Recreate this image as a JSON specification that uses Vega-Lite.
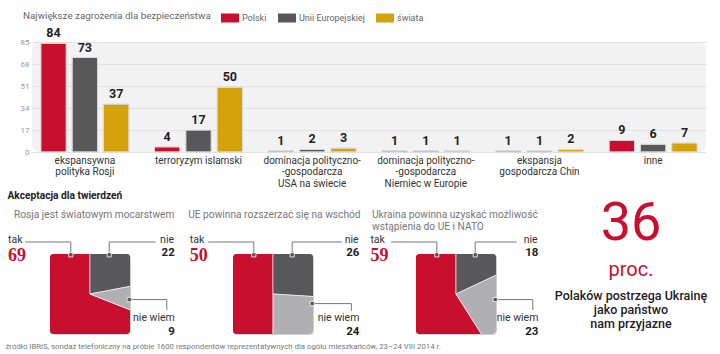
{
  "$schema": "https://vega.github.io/schema/vega-lite/v6.json",
  "background": "white",
  "padding": {"left": 5, "top": 9, "right": 5, "bottom": 3},
  "config": {
    "font": "Roboto",
    "view": {"stroke": null}
  },
  "title": {
    "text": "źródło IBRiS, sondaż telefoniczny na próbie 1600 respondentów reprezentatywnych dla ogółu mieszkańców, 23–24 VIII 2014 r.",
    "orient": "bottom", "anchor": "start", "fontSize": 7.8, "fontWeight": "normal",
    "color": "#777777", "offset": 5, "dx": -2, "font": "Roboto"
  },
  "datasets": {
    "ankieta": [
      {"pytanie": "Rosja jest światowym mocarstwem", "odp": "tak", "proc": 69},
      {"pytanie": "Rosja jest światowym mocarstwem", "odp": "nie", "proc": 22},
      {"pytanie": "Rosja jest światowym mocarstwem", "odp": "nie wiem", "proc": 9},
      {"pytanie": "UE powinna rozszerzać się na wschód", "odp": "tak", "proc": 50},
      {"pytanie": "UE powinna rozszerzać się na wschód", "odp": "nie", "proc": 26},
      {"pytanie": "UE powinna rozszerzać się na wschód", "odp": "nie wiem", "proc": 24},
      {"pytanie": "Ukraina powinna uzyskać możliwość\nwstąpienia do UE i NATO", "odp": "tak", "proc": 59},
      {"pytanie": "Ukraina powinna uzyskać możliwość\nwstąpienia do UE i NATO", "odp": "nie", "proc": 18},
      {"pytanie": "Ukraina powinna uzyskać możliwość\nwstąpienia do UE i NATO", "odp": "nie wiem", "proc": 23}
    ]
  },
  "resolve": {"scale": {"color": "independent", "x": "independent", "y": "independent"}, "legend": {"color": "independent"}},
  "spacing": 2,
  "vconcat": [
    {
      "resolve": {"scale": {"color": "independent", "x": "independent", "y": "independent"}, "legend": {"color": "independent"}},
      "align": "none",
      "spacing": -31,
      "hconcat": [
        {
          "width": 1, "height": 1,
          "data": {"values": [{}]},
          "mark": {"type": "point", "opacity": 0, "size": 1},
          "encoding": {}
        },
        {
          "width": 674,
          "height": 110,
          "view": {"fill": "#f2f2f2", "stroke": null, "cornerRadius": 8},
          "data": {"values": [
            {"kategoria": "ekspansywna\npolityka Rosji", "grupa": "Polski", "wartosc": 84},
            {"kategoria": "ekspansywna\npolityka Rosji", "grupa": "Unii Europejskiej", "wartosc": 73},
            {"kategoria": "ekspansywna\npolityka Rosji", "grupa": "świata", "wartosc": 37},
            {"kategoria": "terroryzym islamski", "grupa": "Polski", "wartosc": 4},
            {"kategoria": "terroryzym islamski", "grupa": "Unii Europejskiej", "wartosc": 17},
            {"kategoria": "terroryzym islamski", "grupa": "świata", "wartosc": 50},
            {"kategoria": "dominacja polityczno-\n-gospodarcza\nUSA na świecie", "grupa": "Polski", "wartosc": 1},
            {"kategoria": "dominacja polityczno-\n-gospodarcza\nUSA na świecie", "grupa": "Unii Europejskiej", "wartosc": 2},
            {"kategoria": "dominacja polityczno-\n-gospodarcza\nUSA na świecie", "grupa": "świata", "wartosc": 3},
            {"kategoria": "dominacja polityczno-\n-gospodarcza\nNiemiec w Europie", "grupa": "Polski", "wartosc": 1},
            {"kategoria": "dominacja polityczno-\n-gospodarcza\nNiemiec w Europie", "grupa": "Unii Europejskiej", "wartosc": 1},
            {"kategoria": "dominacja polityczno-\n-gospodarcza\nNiemiec w Europie", "grupa": "świata", "wartosc": 1},
            {"kategoria": "ekspansja\ngospodarcza Chin", "grupa": "Polski", "wartosc": 1},
            {"kategoria": "ekspansja\ngospodarcza Chin", "grupa": "Unii Europejskiej", "wartosc": 1},
            {"kategoria": "ekspansja\ngospodarcza Chin", "grupa": "świata", "wartosc": 2},
            {"kategoria": "inne", "grupa": "Polski", "wartosc": 9},
            {"kategoria": "inne", "grupa": "Unii Europejskiej", "wartosc": 6},
            {"kategoria": "inne", "grupa": "świata", "wartosc": 7}
          ]},
          "encoding": {
            "x": {
              "field": "kategoria", "type": "nominal", "sort": null,
              "scale": {"paddingInner": 0.224, "paddingOuter": 0.077},
              "axis": {
                "title": null, "labelExpr": "split(datum.label, '\\n')", "labelAngle": 0,
                "labelFontSize": 10, "labelColor": "#333333", "labelLineHeight": 11.5,
                "labelPadding": 3, "ticks": false, "domain": false, "labelLimit": 0, "grid": false
              }
            },
            "y": {
              "field": "wartosc", "type": "quantitative",
              "scale": {"domain": [0, 85], "nice": false},
              "axis": {
                "values": [0, 17, 34, 51, 68, 85], "title": null,
                "domain": false, "ticks": false, "labelFontSize": 8, "labelColor": "#999999",
                "labelPadding": 3, "gridColor": "#e2e2e2", "gridWidth": 1
              }
            },
            "xOffset": {
              "field": "grupa", "type": "nominal",
              "sort": ["Polski", "Unii Europejskiej", "świata"],
              "scale": {"paddingInner": 0.184, "paddingOuter": 0}
            }
          },
          "layer": [
            {
              "mark": {"type": "bar", "stroke": "#d8d8d8", "strokeWidth": 1, "cornerRadius": 1},
              "encoding": {
                "color": {
                  "field": "grupa", "type": "nominal",
                  "sort": ["Polski", "Unii Europejskiej", "świata"],
                  "scale": {"domain": ["Polski", "Unii Europejskiej", "świata"], "range": ["#c8102e", "#58585a", "#d4a20a"]},
                  "legend": {
                    "orient": "none", "legendX": -9, "legendY": -33, "direction": "horizontal",
                    "title": "Największe zagrożenia dla bezpieczeństwa", "titleOrient": "left",
                    "titleFontSize": 9.8, "titleFontWeight": "normal", "titleColor": "#666666",
                    "titlePadding": 10, "titleBaseline": "middle", "titleLimit": 400,
                    "symbolType": "M-1,-0.5H1V0.5H-1Z", "symbolSize": 324, "symbolStrokeWidth": 0,
                    "symbolOpacity": 1, "labelFontSize": 9, "labelColor": "#666666",
                    "labelOffset": 3, "columnPadding": 11
                  }
                }
              }
            },
            {
              "mark": {"type": "text", "baseline": "bottom", "dy": -3, "fontSize": 12.5, "fontWeight": "bold", "color": "#222222", "font": "Roboto"},
              "encoding": {"text": {"field": "wartosc", "type": "quantitative"}}
            }
          ]
        }
      ]
    },
    {
      "title": {"text": "Akceptacja dla twierdzeń", "anchor": "start", "fontSize": 10.2, "fontWeight": "bold", "color": "#222222", "offset": -4, "font": "Roboto"},
      "bounds": "flush",
      "spacing": 103,
      "hconcat": [
        {
          "width": 80, "height": 80,
          "view": {"stroke": "#cfcfcf", "strokeWidth": 1, "cornerRadius": 3},
          "data": {"name": "ankieta"},
          "transform": [{"filter": "datum.pytanie == 'Rosja jest światowym mocarstwem'"}],
          "layer": [
            {"mark": {"type": "arc", "outerRadius": 70, "clip": true, "stroke": "#ffffff", "strokeWidth": 0.6},
             "encoding": {"theta": {"field": "proc", "type": "quantitative", "stack": true}, "order": {"field": "odp", "sort": "ascending"},
               "color": {"field": "odp", "type": "nominal", "scale": {"domain": ["tak", "nie", "nie wiem"], "range": ["#c8102e", "#58585a", "#b0b0b2"]}, "legend": null}}},
            {"transform": [{"filter": "datum.odp == 'tak'"}], "mark": {"type": "rule", "color": "#777777", "strokeWidth": 1},
             "encoding": {"x": {"datum": -31, "type": "quantitative", "scale": {"domain": [0, 100], "nice": false, "zero": false}, "axis": null}, "x2": {"datum": 26},
               "y": {"datum": -15, "type": "quantitative", "scale": {"domain": [0, 100], "nice": false, "zero": false, "reverse": true}, "axis": null}}},
            {"transform": [{"filter": "datum.odp == 'tak'"}], "mark": {"type": "rule", "color": "#777777", "strokeWidth": 1},
             "encoding": {"x": {"datum": 26, "type": "quantitative", "axis": null}, "y": {"datum": -15, "type": "quantitative", "axis": null}, "y2": {"datum": 1}}},
            {"transform": [{"filter": "datum.odp == 'nie'"}], "mark": {"type": "rule", "color": "#777777", "strokeWidth": 1},
             "encoding": {"x": {"datum": 132, "type": "quantitative", "axis": null}, "x2": {"datum": 74}, "y": {"datum": -15, "type": "quantitative", "axis": null}}},
            {"transform": [{"filter": "datum.odp == 'nie'"}], "mark": {"type": "rule", "color": "#777777", "strokeWidth": 1},
             "encoding": {"x": {"datum": 74, "type": "quantitative", "axis": null}, "y": {"datum": -15, "type": "quantitative", "axis": null}, "y2": {"datum": 1}}},
            {"transform": [{"filter": "datum.odp == 'nie wiem'"}], "mark": {"type": "rule", "color": "#777777", "strokeWidth": 1},
             "encoding": {"x": {"datum": 99, "type": "quantitative", "axis": null}, "x2": {"datum": 146}, "y": {"datum": 57, "type": "quantitative", "axis": null}}},
            {"transform": [{"filter": "datum.odp == 'nie wiem'"}], "mark": {"type": "rule", "color": "#777777", "strokeWidth": 1},
             "encoding": {"x": {"datum": 146, "type": "quantitative", "axis": null}, "y": {"datum": 57, "type": "quantitative", "axis": null}, "y2": {"datum": 70}}},
            {"transform": [{"filter": "datum.odp == 'tak'"}], "mark": {"type": "point", "shape": "square", "filled": true, "size": 18, "color": "#555555", "stroke": "#ffffff", "strokeWidth": 0.8, "opacity": 1},
             "encoding": {"x": {"datum": 26, "type": "quantitative", "axis": null}, "y": {"datum": 1, "type": "quantitative", "axis": null}}},
            {"transform": [{"filter": "datum.odp == 'nie'"}], "mark": {"type": "point", "shape": "square", "filled": true, "size": 18, "color": "#555555", "stroke": "#ffffff", "strokeWidth": 0.8, "opacity": 1},
             "encoding": {"x": {"datum": 74, "type": "quantitative", "axis": null}, "y": {"datum": 1, "type": "quantitative", "axis": null}}},
            {"transform": [{"filter": "datum.odp == 'nie wiem'"}], "mark": {"type": "point", "shape": "square", "filled": true, "size": 18, "color": "#555555", "stroke": "#ffffff", "strokeWidth": 0.8, "opacity": 1},
             "encoding": {"x": {"datum": 99, "type": "quantitative", "axis": null}, "y": {"datum": 57, "type": "quantitative", "axis": null}}},
            {"transform": [{"filter": "datum.odp == 'tak'"}], "mark": {"type": "text", "align": "left", "baseline": "top", "lineBreak": "\n", "lineHeight": 12, "fontSize": 10.2, "color": "#777777", "font": "Roboto"},
             "encoding": {"x": {"datum": -45, "type": "quantitative", "axis": null}, "y": {"datum": -55, "type": "quantitative", "axis": null}, "text": {"field": "pytanie"}}},
            {"transform": [{"filter": "datum.odp == 'tak'"}], "mark": {"type": "text", "align": "left", "baseline": "middle", "fontSize": 10.5, "color": "#333333", "font": "Roboto"},
             "encoding": {"x": {"datum": -52.5, "type": "quantitative", "axis": null}, "y": {"datum": -17.5, "type": "quantitative", "axis": null}, "text": {"field": "odp"}}},
            {"transform": [{"filter": "datum.odp == 'tak'"}], "mark": {"type": "text", "align": "left", "baseline": "middle", "fontSize": 18, "fontWeight": "bold", "color": "#c8102e", "font": "Liberation Sans Narrow"},
             "encoding": {"x": {"datum": -52.5, "type": "quantitative", "axis": null}, "y": {"datum": 2.5, "type": "quantitative", "axis": null}, "text": {"field": "proc"}}},
            {"transform": [{"filter": "datum.odp == 'nie'"}], "mark": {"type": "text", "align": "right", "baseline": "middle", "fontSize": 10.5, "color": "#333333", "font": "Roboto"},
             "encoding": {"x": {"datum": 155, "type": "quantitative", "axis": null}, "y": {"datum": -17.5, "type": "quantitative", "axis": null}, "text": {"field": "odp"}}},
            {"transform": [{"filter": "datum.odp == 'nie'"}], "mark": {"type": "text", "align": "right", "baseline": "middle", "fontSize": 11.5, "fontWeight": "bold", "color": "#222222", "font": "Roboto"},
             "encoding": {"x": {"datum": 156, "type": "quantitative", "axis": null}, "y": {"datum": -1, "type": "quantitative", "axis": null}, "text": {"field": "proc"}}},
            {"transform": [{"filter": "datum.odp == 'nie wiem'"}], "mark": {"type": "text", "align": "right", "baseline": "middle", "fontSize": 10.5, "color": "#333333", "font": "Roboto"},
             "encoding": {"x": {"datum": 156, "type": "quantitative", "axis": null}, "y": {"datum": 80, "type": "quantitative", "axis": null}, "text": {"field": "odp"}}},
            {"transform": [{"filter": "datum.odp == 'nie wiem'"}], "mark": {"type": "text", "align": "right", "baseline": "middle", "fontSize": 11.5, "fontWeight": "bold", "color": "#222222", "font": "Roboto"},
             "encoding": {"x": {"datum": 156, "type": "quantitative", "axis": null}, "y": {"datum": 97, "type": "quantitative", "axis": null}, "text": {"field": "proc"}}}
          ]
        },
        {
          "width": 80, "height": 80,
          "view": {"stroke": "#cfcfcf", "strokeWidth": 1, "cornerRadius": 3},
          "data": {"name": "ankieta"},
          "transform": [{"filter": "datum.pytanie == 'UE powinna rozszerzać się na wschód'"}],
          "layer": [
            {"mark": {"type": "arc", "outerRadius": 70, "clip": true, "stroke": "#ffffff", "strokeWidth": 0.6},
             "encoding": {"theta": {"field": "proc", "type": "quantitative", "stack": true}, "order": {"field": "odp", "sort": "ascending"},
               "color": {"field": "odp", "type": "nominal", "scale": {"domain": ["tak", "nie", "nie wiem"], "range": ["#c8102e", "#58585a", "#b0b0b2"]}, "legend": null}}},
            {"transform": [{"filter": "datum.odp == 'tak'"}], "mark": {"type": "rule", "color": "#777777", "strokeWidth": 1},
             "encoding": {"x": {"datum": -31, "type": "quantitative", "scale": {"domain": [0, 100], "nice": false, "zero": false}, "axis": null}, "x2": {"datum": 26},
               "y": {"datum": -15, "type": "quantitative", "scale": {"domain": [0, 100], "nice": false, "zero": false, "reverse": true}, "axis": null}}},
            {"transform": [{"filter": "datum.odp == 'tak'"}], "mark": {"type": "rule", "color": "#777777", "strokeWidth": 1},
             "encoding": {"x": {"datum": 26, "type": "quantitative", "axis": null}, "y": {"datum": -15, "type": "quantitative", "axis": null}, "y2": {"datum": 1}}},
            {"transform": [{"filter": "datum.odp == 'nie'"}], "mark": {"type": "rule", "color": "#777777", "strokeWidth": 1},
             "encoding": {"x": {"datum": 136, "type": "quantitative", "axis": null}, "x2": {"datum": 74}, "y": {"datum": -15, "type": "quantitative", "axis": null}}},
            {"transform": [{"filter": "datum.odp == 'nie'"}], "mark": {"type": "rule", "color": "#777777", "strokeWidth": 1},
             "encoding": {"x": {"datum": 74, "type": "quantitative", "axis": null}, "y": {"datum": -15, "type": "quantitative", "axis": null}, "y2": {"datum": 1}}},
            {"transform": [{"filter": "datum.odp == 'nie wiem'"}], "mark": {"type": "rule", "color": "#777777", "strokeWidth": 1},
             "encoding": {"x": {"datum": 99, "type": "quantitative", "axis": null}, "x2": {"datum": 148}, "y": {"datum": 62, "type": "quantitative", "axis": null}}},
            {"transform": [{"filter": "datum.odp == 'nie wiem'"}], "mark": {"type": "rule", "color": "#777777", "strokeWidth": 1},
             "encoding": {"x": {"datum": 148, "type": "quantitative", "axis": null}, "y": {"datum": 62, "type": "quantitative", "axis": null}, "y2": {"datum": 71}}},
            {"transform": [{"filter": "datum.odp == 'tak'"}], "mark": {"type": "point", "shape": "square", "filled": true, "size": 18, "color": "#555555", "stroke": "#ffffff", "strokeWidth": 0.8, "opacity": 1},
             "encoding": {"x": {"datum": 26, "type": "quantitative", "axis": null}, "y": {"datum": 1, "type": "quantitative", "axis": null}}},
            {"transform": [{"filter": "datum.odp == 'nie'"}], "mark": {"type": "point", "shape": "square", "filled": true, "size": 18, "color": "#555555", "stroke": "#ffffff", "strokeWidth": 0.8, "opacity": 1},
             "encoding": {"x": {"datum": 74, "type": "quantitative", "axis": null}, "y": {"datum": 1, "type": "quantitative", "axis": null}}},
            {"transform": [{"filter": "datum.odp == 'nie wiem'"}], "mark": {"type": "point", "shape": "square", "filled": true, "size": 18, "color": "#555555", "stroke": "#ffffff", "strokeWidth": 0.8, "opacity": 1},
             "encoding": {"x": {"datum": 99, "type": "quantitative", "axis": null}, "y": {"datum": 62, "type": "quantitative", "axis": null}}},
            {"transform": [{"filter": "datum.odp == 'tak'"}], "mark": {"type": "text", "align": "left", "baseline": "top", "lineBreak": "\n", "lineHeight": 12, "fontSize": 10.2, "color": "#777777", "font": "Roboto"},
             "encoding": {"x": {"datum": -56, "type": "quantitative", "axis": null}, "y": {"datum": -55, "type": "quantitative", "axis": null}, "text": {"field": "pytanie"}}},
            {"transform": [{"filter": "datum.odp == 'tak'"}], "mark": {"type": "text", "align": "left", "baseline": "middle", "fontSize": 10.5, "color": "#333333", "font": "Roboto"},
             "encoding": {"x": {"datum": -54, "type": "quantitative", "axis": null}, "y": {"datum": -17.5, "type": "quantitative", "axis": null}, "text": {"field": "odp"}}},
            {"transform": [{"filter": "datum.odp == 'tak'"}], "mark": {"type": "text", "align": "left", "baseline": "middle", "fontSize": 18, "fontWeight": "bold", "color": "#c8102e", "font": "Liberation Sans Narrow"},
             "encoding": {"x": {"datum": -54, "type": "quantitative", "axis": null}, "y": {"datum": 2.5, "type": "quantitative", "axis": null}, "text": {"field": "proc"}}},
            {"transform": [{"filter": "datum.odp == 'nie'"}], "mark": {"type": "text", "align": "right", "baseline": "middle", "fontSize": 10.5, "color": "#333333", "font": "Roboto"},
             "encoding": {"x": {"datum": 157, "type": "quantitative", "axis": null}, "y": {"datum": -17.5, "type": "quantitative", "axis": null}, "text": {"field": "odp"}}},
            {"transform": [{"filter": "datum.odp == 'nie'"}], "mark": {"type": "text", "align": "right", "baseline": "middle", "fontSize": 11.5, "fontWeight": "bold", "color": "#222222", "font": "Roboto"},
             "encoding": {"x": {"datum": 158, "type": "quantitative", "axis": null}, "y": {"datum": -1, "type": "quantitative", "axis": null}, "text": {"field": "proc"}}},
            {"transform": [{"filter": "datum.odp == 'nie wiem'"}], "mark": {"type": "text", "align": "right", "baseline": "middle", "fontSize": 10.5, "color": "#333333", "font": "Roboto"},
             "encoding": {"x": {"datum": 158, "type": "quantitative", "axis": null}, "y": {"datum": 80, "type": "quantitative", "axis": null}, "text": {"field": "odp"}}},
            {"transform": [{"filter": "datum.odp == 'nie wiem'"}], "mark": {"type": "text", "align": "right", "baseline": "middle", "fontSize": 11.5, "fontWeight": "bold", "color": "#222222", "font": "Roboto"},
             "encoding": {"x": {"datum": 158, "type": "quantitative", "axis": null}, "y": {"datum": 97, "type": "quantitative", "axis": null}, "text": {"field": "proc"}}}
          ]
        },
        {
          "width": 80, "height": 80,
          "view": {"stroke": "#cfcfcf", "strokeWidth": 1, "cornerRadius": 3},
          "data": {"name": "ankieta"},
          "transform": [{"filter": "indexof(datum.pytanie, 'Ukraina') == 0"}],
          "layer": [
            {"mark": {"type": "arc", "outerRadius": 70, "clip": true, "stroke": "#ffffff", "strokeWidth": 0.6},
             "encoding": {"theta": {"field": "proc", "type": "quantitative", "stack": true}, "order": {"field": "odp", "sort": "ascending"},
               "color": {"field": "odp", "type": "nominal", "scale": {"domain": ["tak", "nie", "nie wiem"], "range": ["#c8102e", "#58585a", "#b0b0b2"]}, "legend": null}}},
            {"transform": [{"filter": "datum.odp == 'tak'"}], "mark": {"type": "rule", "color": "#777777", "strokeWidth": 1},
             "encoding": {"x": {"datum": -31, "type": "quantitative", "scale": {"domain": [0, 100], "nice": false, "zero": false}, "axis": null}, "x2": {"datum": 26},
               "y": {"datum": -15, "type": "quantitative", "scale": {"domain": [0, 100], "nice": false, "zero": false, "reverse": true}, "axis": null}}},
            {"transform": [{"filter": "datum.odp == 'tak'"}], "mark": {"type": "rule", "color": "#777777", "strokeWidth": 1},
             "encoding": {"x": {"datum": 26, "type": "quantitative", "axis": null}, "y": {"datum": -15, "type": "quantitative", "axis": null}, "y2": {"datum": 1}}},
            {"transform": [{"filter": "datum.odp == 'nie'"}], "mark": {"type": "rule", "color": "#777777", "strokeWidth": 1},
             "encoding": {"x": {"datum": 126, "type": "quantitative", "axis": null}, "x2": {"datum": 74}, "y": {"datum": -15, "type": "quantitative", "axis": null}}},
            {"transform": [{"filter": "datum.odp == 'nie'"}], "mark": {"type": "rule", "color": "#777777", "strokeWidth": 1},
             "encoding": {"x": {"datum": 74, "type": "quantitative", "axis": null}, "y": {"datum": -15, "type": "quantitative", "axis": null}, "y2": {"datum": 1}}},
            {"transform": [{"filter": "datum.odp == 'nie wiem'"}], "mark": {"type": "rule", "color": "#777777", "strokeWidth": 1},
             "encoding": {"x": {"datum": 99, "type": "quantitative", "axis": null}, "x2": {"datum": 146}, "y": {"datum": 57, "type": "quantitative", "axis": null}}},
            {"transform": [{"filter": "datum.odp == 'nie wiem'"}], "mark": {"type": "rule", "color": "#777777", "strokeWidth": 1},
             "encoding": {"x": {"datum": 146, "type": "quantitative", "axis": null}, "y": {"datum": 57, "type": "quantitative", "axis": null}, "y2": {"datum": 70}}},
            {"transform": [{"filter": "datum.odp == 'tak'"}], "mark": {"type": "point", "shape": "square", "filled": true, "size": 18, "color": "#555555", "stroke": "#ffffff", "strokeWidth": 0.8, "opacity": 1},
             "encoding": {"x": {"datum": 26, "type": "quantitative", "axis": null}, "y": {"datum": 1, "type": "quantitative", "axis": null}}},
            {"transform": [{"filter": "datum.odp == 'nie'"}], "mark": {"type": "point", "shape": "square", "filled": true, "size": 18, "color": "#555555", "stroke": "#ffffff", "strokeWidth": 0.8, "opacity": 1},
             "encoding": {"x": {"datum": 74, "type": "quantitative", "axis": null}, "y": {"datum": 1, "type": "quantitative", "axis": null}}},
            {"transform": [{"filter": "datum.odp == 'nie wiem'"}], "mark": {"type": "point", "shape": "square", "filled": true, "size": 18, "color": "#555555", "stroke": "#ffffff", "strokeWidth": 0.8, "opacity": 1},
             "encoding": {"x": {"datum": 99, "type": "quantitative", "axis": null}, "y": {"datum": 57, "type": "quantitative", "axis": null}}},
            {"transform": [{"filter": "datum.odp == 'tak'"}], "mark": {"type": "text", "align": "left", "baseline": "top", "lineBreak": "\n", "lineHeight": 12, "fontSize": 10.2, "color": "#777777", "font": "Roboto"},
             "encoding": {"x": {"datum": -55, "type": "quantitative", "axis": null}, "y": {"datum": -55, "type": "quantitative", "axis": null}, "text": {"field": "pytanie"}}},
            {"transform": [{"filter": "datum.odp == 'tak'"}], "mark": {"type": "text", "align": "left", "baseline": "middle", "fontSize": 10.5, "color": "#333333", "font": "Roboto"},
             "encoding": {"x": {"datum": -57, "type": "quantitative", "axis": null}, "y": {"datum": -17.5, "type": "quantitative", "axis": null}, "text": {"field": "odp"}}},
            {"transform": [{"filter": "datum.odp == 'tak'"}], "mark": {"type": "text", "align": "left", "baseline": "middle", "fontSize": 18, "fontWeight": "bold", "color": "#c8102e", "font": "Liberation Sans Narrow"},
             "encoding": {"x": {"datum": -57, "type": "quantitative", "axis": null}, "y": {"datum": 2.5, "type": "quantitative", "axis": null}, "text": {"field": "proc"}}},
            {"transform": [{"filter": "datum.odp == 'nie'"}], "mark": {"type": "text", "align": "right", "baseline": "middle", "fontSize": 10.5, "color": "#333333", "font": "Roboto"},
             "encoding": {"x": {"datum": 152, "type": "quantitative", "axis": null}, "y": {"datum": -17.5, "type": "quantitative", "axis": null}, "text": {"field": "odp"}}},
            {"transform": [{"filter": "datum.odp == 'nie'"}], "mark": {"type": "text", "align": "right", "baseline": "middle", "fontSize": 11.5, "fontWeight": "bold", "color": "#222222", "font": "Roboto"},
             "encoding": {"x": {"datum": 153, "type": "quantitative", "axis": null}, "y": {"datum": -1, "type": "quantitative", "axis": null}, "text": {"field": "proc"}}},
            {"transform": [{"filter": "datum.odp == 'nie wiem'"}], "mark": {"type": "text", "align": "right", "baseline": "middle", "fontSize": 10.5, "color": "#333333", "font": "Roboto"},
             "encoding": {"x": {"datum": 153, "type": "quantitative", "axis": null}, "y": {"datum": 80, "type": "quantitative", "axis": null}, "text": {"field": "odp"}}},
            {"transform": [{"filter": "datum.odp == 'nie wiem'"}], "mark": {"type": "text", "align": "right", "baseline": "middle", "fontSize": 11.5, "fontWeight": "bold", "color": "#222222", "font": "Roboto"},
             "encoding": {"x": {"datum": 153, "type": "quantitative", "axis": null}, "y": {"datum": 97, "type": "quantitative", "axis": null}, "text": {"field": "proc"}}}
          ]
        },
        {
          "width": 64,
          "height": 80,
          "data": {"values": [
            {"wartosc": 36, "jednostka": "proc.", "opis": "Polaków postrzega Ukrainę\njako państwo\nnam przyjazne"}
          ]},
          "layer": [
            {
              "mark": {"type": "text", "font": "Roboto", "fontWeight": 400, "fontSize": 54, "color": "#c8102e", "baseline": "alphabetic", "dy": -54},
              "encoding": {"text": {"field": "wartosc"}}
            },
            {
              "mark": {"type": "text", "font": "Roboto", "fontWeight": 400, "fontSize": 20, "color": "#c8102e", "baseline": "alphabetic", "dy": -18},
              "encoding": {"text": {"field": "jednostka"}}
            },
            {
              "mark": {"type": "text", "font": "Roboto", "fontWeight": 500, "fontSize": 12.5, "color": "#222222", "baseline": "alphabetic", "lineBreak": "\n", "lineHeight": 14, "dy": 6},
              "encoding": {"text": {"field": "opis"}}
            }
          ]
        }
      ]
    }
  ]
}
